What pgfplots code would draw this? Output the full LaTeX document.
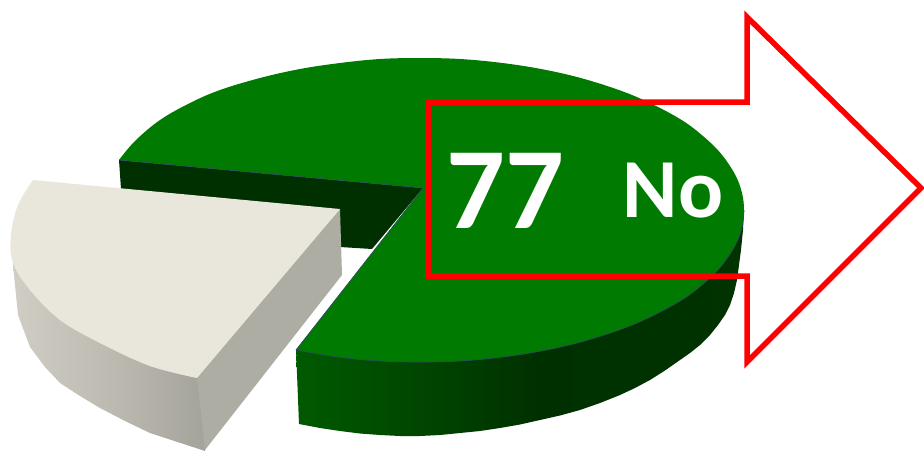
\documentclass[border=0pt]{standalone}
\usepackage{fontspec}
\setmainfont{Carlito}
\usepackage{pgfplots}
\pgfplotsset{compat=1.18}
\definecolor{gtop}{HTML}{007A00}
\definecolor{gin}{HTML}{003000}
\definecolor{edge}{HTML}{2F4A60}
\definecolor{ctop}{HTML}{E9E7DC}
\definecolor{cface}{HTML}{AEADA4}
\definecolor{ga}{HTML}{005A00}
\definecolor{gb}{HTML}{003C00}
\definecolor{gc}{HTML}{003000}
\definecolor{gd}{HTML}{003300}
\definecolor{ca}{HTML}{CFCDC4}
\definecolor{cb}{HTML}{BDBAB1}
\definecolor{cc}{HTML}{A4A39B}
\pgfdeclarehorizontalshading{gside}{100bp}{color(0bp)=(ga);color(25bp)=(ga);color(45bp)=(gb);color(52bp)=(gc);color(75bp)=(gd);color(100bp)=(gd)}
\pgfdeclarehorizontalshading{cside}{100bp}{color(0bp)=(ca);color(25bp)=(ca);color(50bp)=(cb);color(75bp)=(cc);color(100bp)=(cc)}
\begin{document}
\begin{tikzpicture}
\useasboundingbox (0,0) rectangle (924pt,451pt);
\begin{axis}[hide axis,scale only axis,width=924pt,height=451pt,
  xmin=0,xmax=924,ymin=0,ymax=451,y dir=reverse,clip=true]
% green outer side
\addplot[draw=none,shading=gside] coordinates {(296,349)(299,424)(320,428)(340,431)(360,433.5)(380,435)(400,436)(420,436)(440,435)(460,433)(480,431)(500,428)(520,424.5)(540,420)(560,415.5)(580,410)(600,403)(620,395)(635,388)(650,380)(665,370.5)(680,360)(690,353)(700,345)(710,335)(718,325)(725,315)(730,305)(734,293)(737,280)(739,265)(741,250)(743,230)(744,210)(720,267)(650,317)(580,342)(500,357)(420,362)(340,357)};
% green inner side
\addplot[draw=none,fill=gin] coordinates {(119,160)(121,189)(340,210)(340,247)(372,249)(423,188)};
% green top, one path
\addplot[draw=none,fill=gtop,smooth,tension=0.6] coordinates {(119,160)(135,141)(160,120)(190,103)(220,90)(260,78)(300,69)(340,63)(380,59)(420,58)(460,59)(500,62.7)(540,68.8)(580,77.8)(620,90.4)(650,103)(680,119)(700,133.5)(720,152.5)(735,174.4)(742,193)(744,210)(742,227)(735,245.6)(720,267.5)(700,286.5)(680,301)(650,317)(620,329.6)(580,342.2)(540,351.2)(500,357.3)(460,361)(420,362)(380,361)(340,357.3)(296,350)} -- (axis cs:423,188) -- cycle;
\addplot[edge,line width=0.7pt] coordinates {(119,160)(423,188)(296,350)};
\addplot[edge,line width=0.7pt,smooth,tension=0.6] coordinates {(296,350)(340,357.3)(380,361)(420,362)(460,361)(500,357.3)(540,351.2)(580,342.2)(620,329.6)(650,317)(680,301)(700,286.5)(720,267.5)(735,245.6)(742,227)(744,210)};
% cream slice
\addplot[draw=none,fill=cface] coordinates {(340,209)(342,275)(205,450)(190,440)(190,378)};
\addplot[draw=none,shading=cside] coordinates {(13,263)(15,285)(18,315)(30,347)(45,367)(60,383)(80,396)(100,408)(125,421)(150,433)(205,451)(197,378)(150,366)(100,343)(60,320)(30,290)};
\addplot[draw=none,fill=ctop,smooth,tension=0.6] coordinates {(33,180)(18,205)(11,235)(13,263)(30,290)(60,320)(100,343)(150,366)(197,378)} -- (axis cs:340,209) -- cycle;
% arrow
\addplot[red,line width=5.5pt,miter limit=10,line join=miter] coordinates {(428,102)(747,102)(747,17)(921,188)(747,362)(747,276)(428,276)} -- cycle;
\node[white,anchor=base,font=\fontsize{116}{116}\selectfont\bfseries,inner sep=0pt] at (axis cs:505,228) {77};
\node[white,anchor=base,font=\fontsize{84}{84}\selectfont\bfseries,inner sep=0pt] at (axis cs:673,217) {No};
\end{axis}
\end{tikzpicture}
\end{document}
